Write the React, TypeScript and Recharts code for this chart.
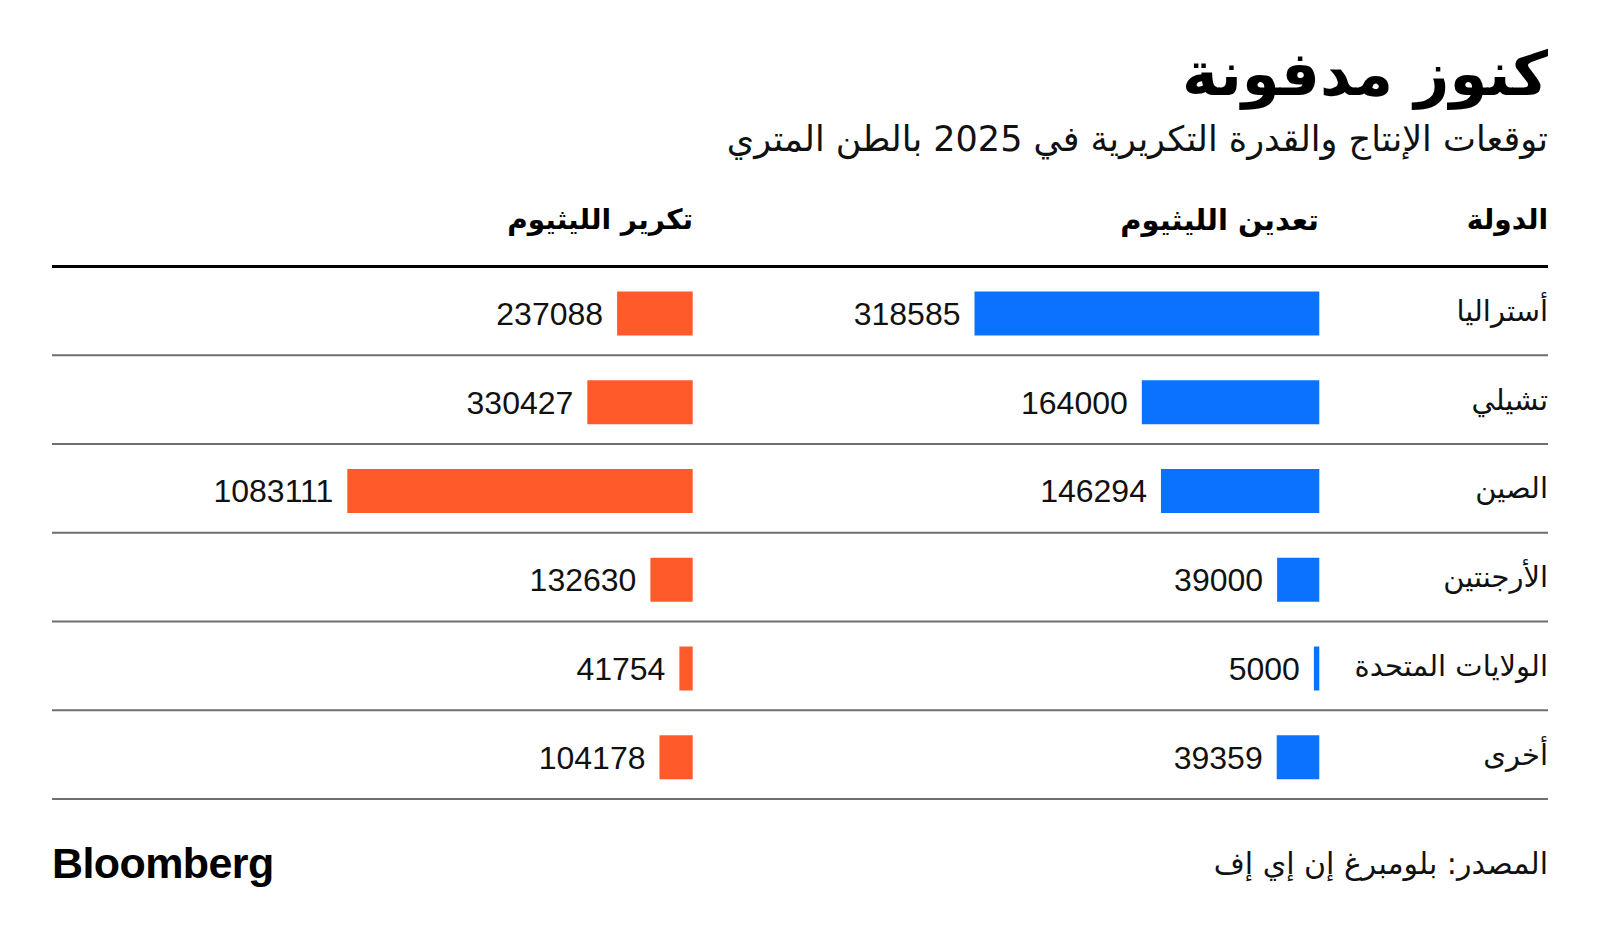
import React from 'react';
import { BarChart, Bar, XAxis, YAxis, CartesianGrid, LabelList } from 'recharts';

const countries = ['أستراليا', 'تشيلي', 'الصين', 'الأرجنتين', 'الولايات المتحدة', 'أخرى'];
const mining = [318585, 164000, 146294, 39000, 5000, 39359];
const refining = [237088, 330427, 1083111, 132630, 41754, 104178];

const rows = countries.map((country, i) => ({ country, mining: mining[i], refining: refining[i] }));

const W = 1600;
const H = 944;
const ROW_TOP = 266.5;
const ROW_BOTTOM = 799;
const AR = "'DejaVu Sans', sans-serif";
const NUM = "'Liberation Sans', Arial, sans-serif";

const BLUE = '#0a72ff';
const ORANGE = '#ff5a2a';

const layer: React.CSSProperties = { position: 'absolute', left: 0, top: 0 };

const CountryTick = (props: any) => {
  const { x, y, payload } = props;
  return (
    <text x={x} y={y} dy={10} textAnchor="end" fontFamily={AR} fontSize={29} fill="#111">
      {payload.value}
    </text>
  );
};

const rowLines = ({ offset }: any) => {
  const step = offset.height / countries.length;
  return countries.map((_, i) => offset.top + step * (i + 1));
};

const BarPanel = ({ dataKey, color, left, right }: { dataKey: string; color: string; left: number; right: number }) => (
  <div style={layer}>
    <BarChart
      width={W}
      height={H}
      data={rows}
      layout="vertical"
      margin={{ top: ROW_TOP + 3, bottom: H - ROW_BOTTOM - 3, left, right: W - right }}
    >
      <XAxis type="number" domain={[0, 'dataMax']} reversed hide />
      <YAxis type="category" dataKey="country" hide />
      <Bar dataKey={dataKey} fill={color} barSize={44} isAnimationActive={false}>
        {/* axis is reversed, so "right" lands on the bar's far (left) end */}
        <LabelList
          dataKey={dataKey}
          position="right"
          offset={14}
          fill="#111"
          style={{ fontFamily: NUM, fontSize: 32 }}
        />
      </Bar>
    </BarChart>
  </div>
);

export default function App() {
  return (
    <div style={{ position: 'absolute', left: 0, top: 0, width: W, height: H, background: '#fff', overflow: 'hidden' }}>
      <div dir="rtl" style={{ position: 'absolute', right: 52, top: 43, fontFamily: AR, fontWeight: 700, fontSize: 61, lineHeight: 1, color: '#000' }}>
        كنوز مدفونة
      </div>
      <div dir="rtl" style={{ position: 'absolute', right: 52, top: 118, fontFamily: AR, fontSize: 35, lineHeight: 1.2, color: '#111' }}>
        توقعات الإنتاج والقدرة التكريرية في 2025 بالطن المتري
      </div>

      <div dir="rtl" style={{ position: 'absolute', right: 52, top: 203, fontFamily: AR, fontWeight: 700, fontSize: 28, lineHeight: 1.2 }}>
        الدولة
      </div>
      <div dir="rtl" style={{ position: 'absolute', right: W - 1319, top: 203, fontFamily: AR, fontWeight: 700, fontSize: 29, lineHeight: 1.2 }}>
        تعدين الليثيوم
      </div>
      <div dir="rtl" style={{ position: 'absolute', right: W - 693, top: 203, fontFamily: AR, fontWeight: 700, fontSize: 28, lineHeight: 1.2 }}>
        تكرير الليثيوم
      </div>

      <div style={layer}>
        <BarChart
          width={W}
          height={H}
          data={rows}
          layout="vertical"
          margin={{ top: ROW_TOP, bottom: H - ROW_BOTTOM, left: 52, right: 52 }}
        >
          <CartesianGrid vertical={false} stroke="#6f6f6f" strokeWidth={2} horizontalCoordinatesGenerator={rowLines} />
          <CartesianGrid vertical={false} stroke="#000" strokeWidth={3} horizontalCoordinatesGenerator={({ offset }: any) => [offset.top]} />
          <XAxis type="number" hide />
          <YAxis
            type="category"
            dataKey="country"
            orientation="right"
            mirror
            axisLine={false}
            tickLine={false}
            tickSize={0}
            tickMargin={0}
            tick={<CountryTick />}
          />
        </BarChart>
      </div>

      <BarPanel dataKey="mining" color={BLUE} left={974.5} right={1319.3} />
      <BarPanel dataKey="refining" color={ORANGE} left={347.3} right={692.7} />

      <div style={{ position: 'absolute', left: 52, top: 838, fontFamily: NUM, fontWeight: 700, fontSize: 43, letterSpacing: -0.6, lineHeight: 1.2, color: '#000' }}>
        Bloomberg
      </div>
      <div dir="rtl" style={{ position: 'absolute', right: 52, top: 846, fontFamily: AR, fontSize: 30, lineHeight: 1.2, color: '#111' }}>
        المصدر: بلومبرغ إن إي إف
      </div>
    </div>
  );
}
